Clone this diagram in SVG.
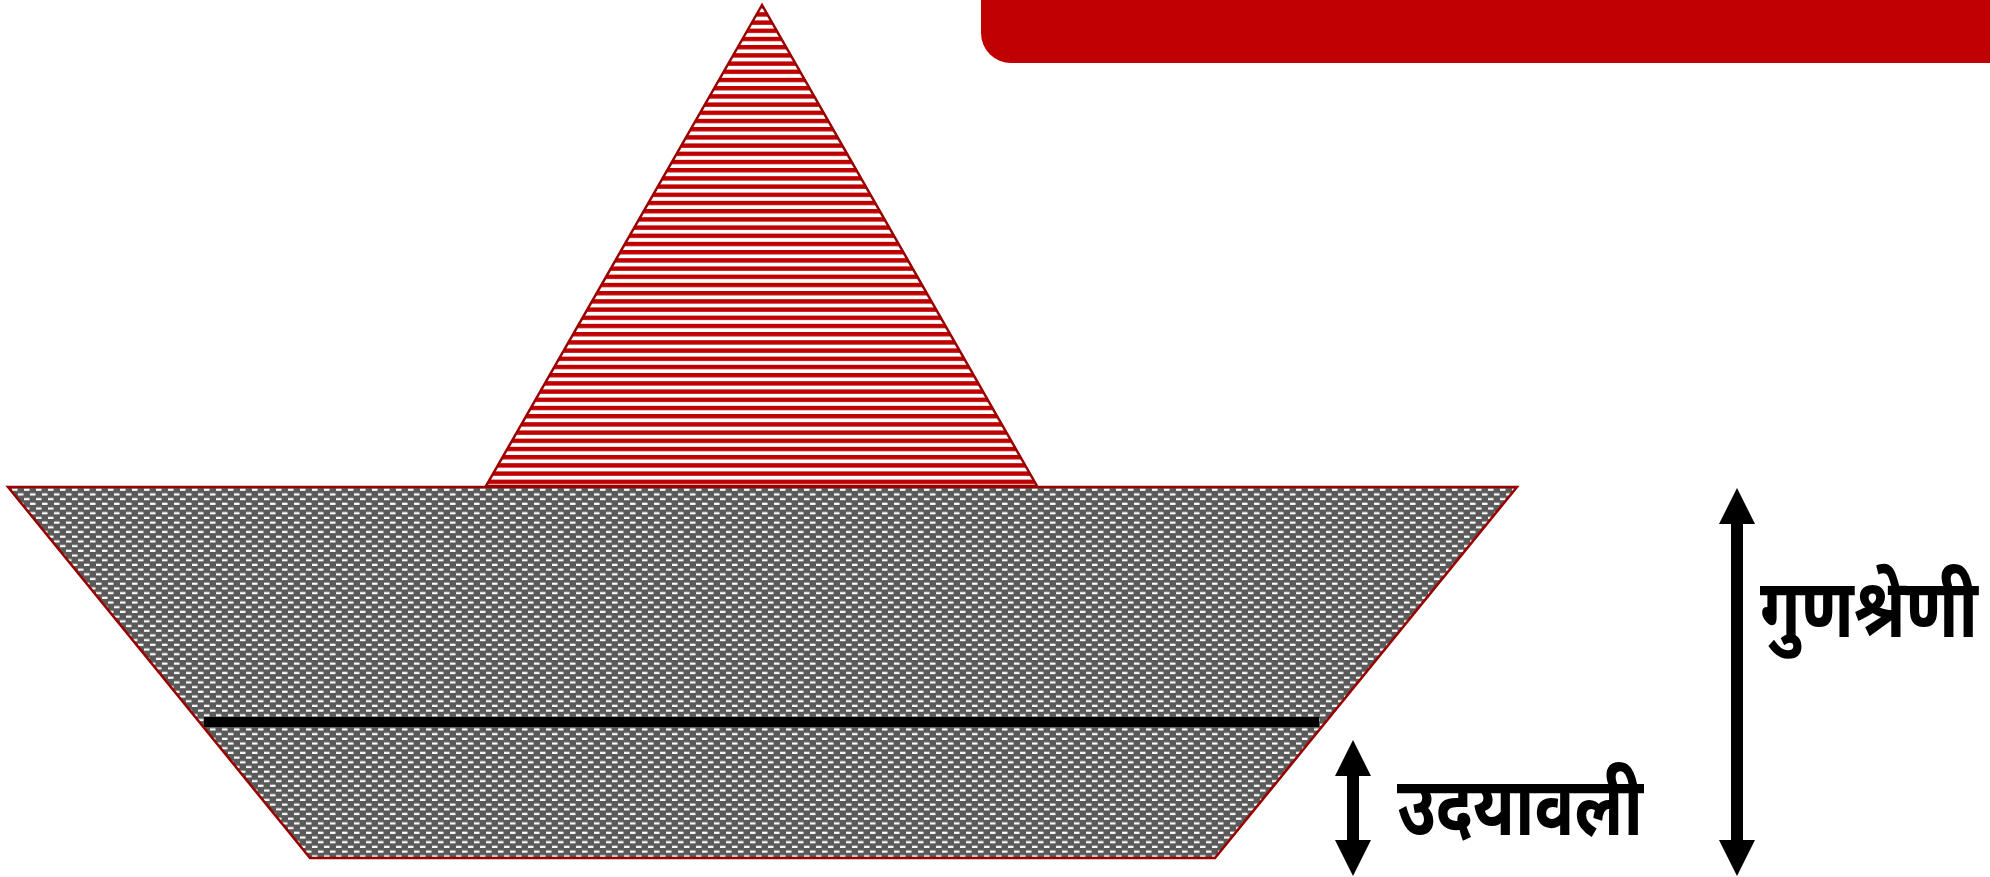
<svg xmlns="http://www.w3.org/2000/svg" width="1990" height="877" viewBox="0 0 1990 877">
  <style>
    .shape { stroke: #990000; stroke-width: 2.5; stroke-linejoin: miter; }
    .lbl { font-family: "Noto Sans", "Liberation Sans", sans-serif; font-weight: bold; font-size: 62px; fill: #000; }
    .arrow { fill: #000; }
  </style>
  <defs>
    <pattern id="stripes" patternUnits="userSpaceOnUse" x="0" y="4" width="16" height="8.2">
      <rect x="0" y="0" width="16" height="8.2" fill="#ffffff"/>
      <rect x="0" y="0" width="16" height="4.4" fill="#c00000"/>
    </pattern>
    <pattern id="dashes" patternUnits="userSpaceOnUse" x="0" y="488" width="12" height="9.4">
      <rect x="0" y="0" width="12" height="9.4" fill="#5a5a5a"/>
      <rect x="0" y="0.6" width="5.5" height="2.2" fill="#ffffff"/>
      <rect x="6" y="5.3" width="5.5" height="2.2" fill="#ffffff"/>
    </pattern>
  </defs>

  <g id="banner">
    <rect x="981" y="-40" width="1040" height="103" rx="30" ry="30" fill="#c00000"/>
  </g>

  <g id="sail">
    <polygon class="shape" points="762,5 486,486 1037,486" fill="url(#stripes)"/>
  </g>

  <g id="hull">
    <polygon class="shape" points="8,487 1517,487 1215,858 310,858" fill="url(#dashes)"/>
  </g>

  <g id="connectors">
    <rect x="204" y="717" width="1115" height="10" fill="#000"/>
    <!-- small double arrow -->
    <polygon class="arrow" points="1353,740 1371,776 1359,776 1359,840 1371,840 1353,876 1335,840 1347,840 1347,776 1335,776"/>
    <!-- large double arrow -->
    <polygon class="arrow" points="1737,488 1755,524 1743,524 1743,840 1755,840 1737,876 1719,840 1731,840 1731,524 1719,524"/>
  </g>

  <g id="label-udayavali">
    <text class="lbl" transform="translate(1397,835) scale(1,1.32)" x="0" y="0" textLength="246" lengthAdjust="spacingAndGlyphs">उदयावली</text>
  </g>
  <g id="label-gunashreni">
    <text class="lbl" transform="translate(1760,637) scale(1,1.32)" x="0" y="0" textLength="218" lengthAdjust="spacingAndGlyphs">गुणश्रेणी</text>
  </g>
</svg>
